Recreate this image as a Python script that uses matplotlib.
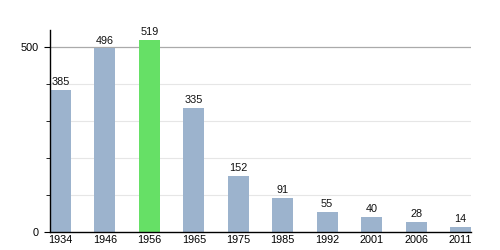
import matplotlib
matplotlib.use("Agg")
import matplotlib.pyplot as plt
from matplotlib.ticker import MultipleLocator

years = ["1934", "1946", "1956", "1965", "1975", "1985", "1992", "2001", "2006", "2011"]
population = [385, 496, 519, 335, 152, 91, 55, 40, 28, 14]
highlight = "1956"

plt.rcParams['font.family'] = ['Liberation Sans', 'DejaVu Sans']

fig = plt.figure(figsize=(5, 2.5), dpi=100)
ax = fig.add_axes([0.1, 0.072, 0.842, 0.808])

x = list(range(len(years)))
width = 0.47
colors = ['#66e066' if y == highlight else '#9cb3cd' for y in years]
ax.bar(x, population, width=width, color=colors, zorder=2)

for xi, v in zip(x, population):
    ax.text(xi, v + 8, str(v), ha='center', va='bottom', fontsize=7.8, color='#111111')

ax.set_xlim(-width / 2, len(years) - 1 + width / 2)
ax.set_ylim(0, 546)
ax.set_xticks(x)
ax.set_xticklabels(years, fontsize=7.8)
ax.set_yticks([0, 500])
ax.set_yticklabels(["0", "500"], fontsize=7.8)
ax.yaxis.set_minor_locator(MultipleLocator(100))
ax.tick_params(axis='x', length=0, pad=2)
ax.tick_params(axis='y', which='major', length=4, width=0.8, pad=4)
ax.tick_params(axis='y', which='minor', length=3, width=0.6)

for v in [100, 200, 300, 400]:
    ax.axhline(v, color='#e6e6e6', lw=0.8, zorder=1)
ax.axhline(500, color='#aaaaaa', lw=0.9, zorder=1)

for s in ['top', 'right']:
    ax.spines[s].set_visible(False)
ax.spines['left'].set_linewidth(1.0)
ax.spines['bottom'].set_linewidth(1.0)

fig.savefig("out.png", dpi=100)
